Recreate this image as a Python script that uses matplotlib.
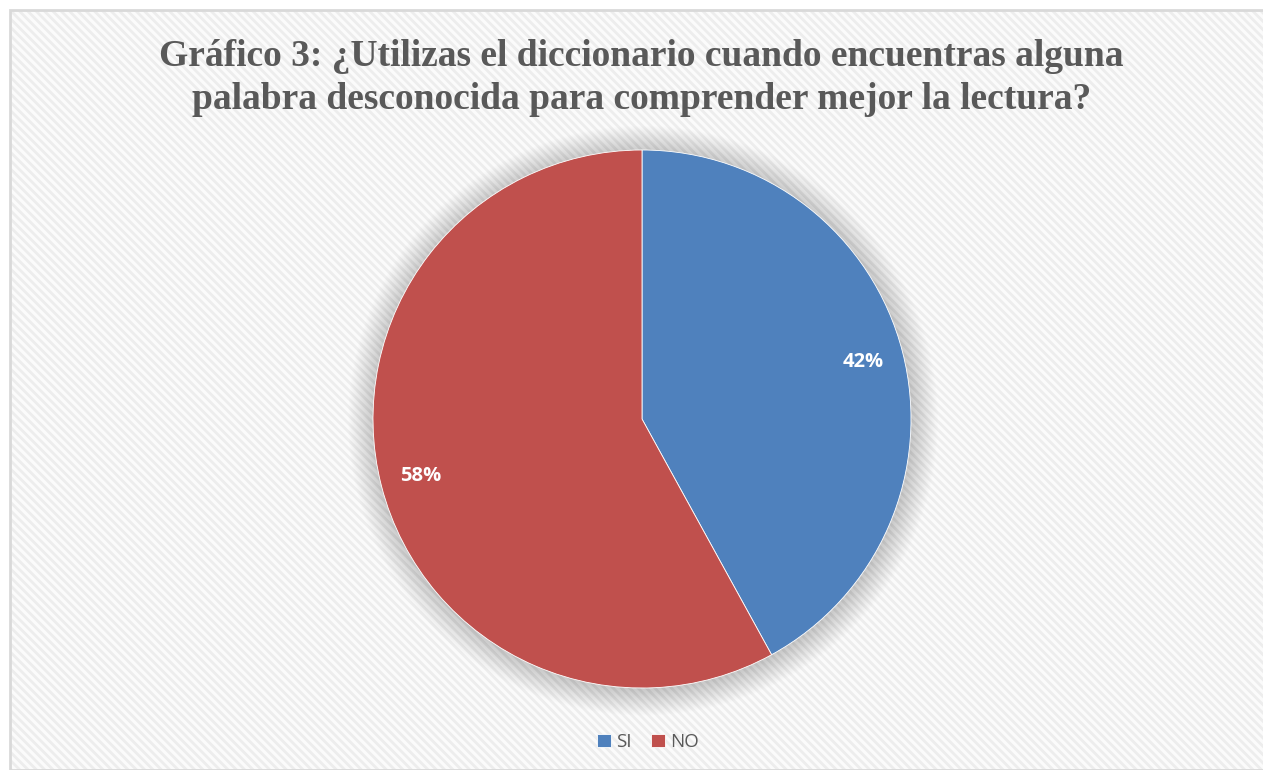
import matplotlib.pyplot as plt
from matplotlib.patches import Rectangle, Circle

# data
labels = ['SI', 'NO']
values = [42, 58]
colors = ['#4F81BD', '#C0504D']
title = ('Gráfico 3: ¿Utilizas el diccionario cuando encuentras alguna\n'
         'palabra desconocida para comprender mejor la lectura?')

W, H = 1263, 770
plt.rcParams['hatch.linewidth'] = 2.0

fig = plt.figure(figsize=(W / 100, H / 100), dpi=100)
fig.patch.set_facecolor('white')

# chart area with diagonal texture and light border
bx, by = 10 / W, 0
bw, bh = 1 - bx + 0.01, 1 - 10 / H
fig.patches.append(Rectangle((bx, by), bw, bh, transform=fig.transFigure,
                             facecolor='#fbfbfb', edgecolor='#ededed',
                             linewidth=0, hatch='\\\\\\\\', zorder=0))
fig.patches.append(Rectangle((bx, by), bw, bh, transform=fig.transFigure,
                             facecolor='none', edgecolor='#d9d9d9',
                             linewidth=2.0, zorder=1))

fig.text(0.508, 1 - 78 / H, title, ha='center', va='center',
         fontsize=27, fontweight='bold', family='Liberation Serif',
         color='#595959', linespacing=1.3, zorder=3)

# pie
cx, cy, r = 642, 419, 269
k = 1.15
ax = fig.add_axes([(cx - r * k) / W, (H - cy - r * k) / H,
                   2 * r * k / W, 2 * r * k / H])
ax.set_zorder(2)
ax.patch.set_visible(False)
ax.axis('off')

# soft shadow
n = 24
for i in range(n):
    rr = 1.0 + 0.004 * (n - i)
    ax.add_patch(Circle((0.004, -0.006), rr, facecolor='#000000', alpha=0.008,
                        edgecolor='none', zorder=0))

wedges, texts, autotexts = ax.pie(
    values, colors=colors, startangle=90, counterclock=False,
    autopct='%1.0f%%', pctdistance=0.85, radius=1.0,
    wedgeprops=dict(edgecolor='white', linewidth=0.6),
    textprops=dict(color='white', fontsize=14.5, fontweight='bold',
                   family='Open Sans'))
ax.set_xlim(-k, k)
ax.set_ylim(-k, k)

leg = fig.legend(wedges, labels, loc='center', bbox_to_anchor=(0.513, 1 - 742 / H),
                 ncol=2, frameon=False, handlelength=0.75, handleheight=0.75,
                 handletextpad=0.3, columnspacing=1.0,
                 prop=dict(family='Open Sans', size=13.5))
leg.set_zorder(3)
for t in leg.get_texts():
    t.set_color('#595959')

fig.savefig('out.png', dpi=100)
